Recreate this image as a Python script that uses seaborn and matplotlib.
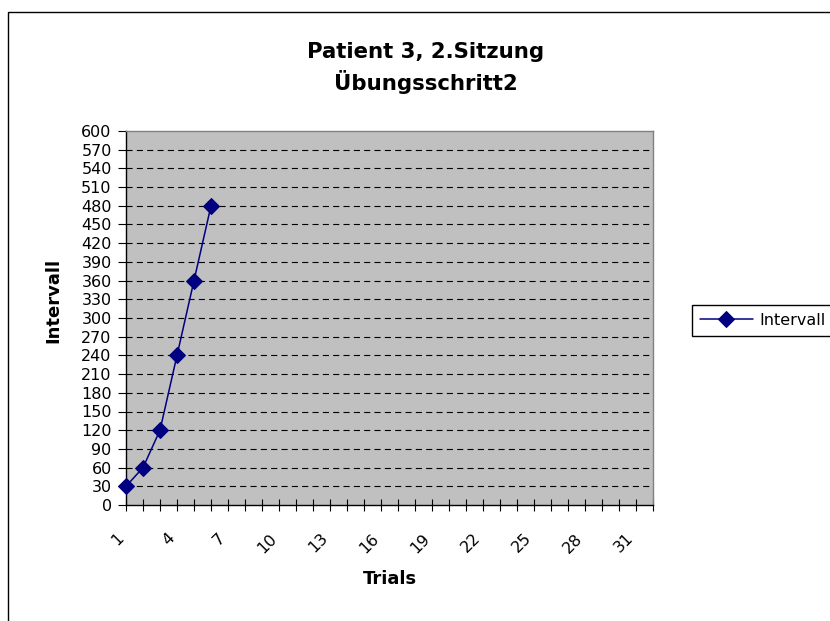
import seaborn as sns
import matplotlib.pyplot as plt
import matplotlib.transforms as mtransforms
from matplotlib.patches import Rectangle
import pandas as pd

# values
trials = [1, 2, 3, 4, 5, 6]
intervall = [30, 60, 120, 240, 360, 480]
x_labels = list(range(1, 32, 3))
y_ticks = list(range(0, 601, 30))

df = pd.DataFrame({'Trials': trials, 'Intervall': intervall})

sns.set_style('white')
plt.rcParams['font.family'] = ['DejaVu Sans']
plt.rcParams['text.color'] = 'black'
plt.rcParams['xtick.color'] = 'black'
plt.rcParams['ytick.color'] = 'black'

W, H = 830, 621
fig = plt.figure(figsize=(W / 100, H / 100), dpi=100)
ax = fig.add_axes([126 / W, 1 - 505 / H, (653 - 126) / W, (505 - 131) / H])
ax.set_facecolor('#c0c0c0')

sns.lineplot(data=df, x='Trials', y='Intervall', ax=ax, color='#000080',
             marker='D', markersize=8.2, markeredgecolor='#000080',
             linewidth=1.1, label='Intervall', clip_on=False, zorder=5)

ax.set_xlim(1, 32)
ax.set_ylim(0, 600)
ax.set_yticks(y_ticks)
ax.set_xticks(range(1, 33))
ax.set_xticklabels([str(i) if i in x_labels else '' for i in range(1, 33)])

for y in y_ticks[1:-1]:
    ax.axhline(y, color='black', lw=0.8, ls=(0, (5.5, 3.8)), zorder=1)

for s in ['top', 'right']:
    ax.spines[s].set_color('#808080')
for s in ['left', 'bottom']:
    ax.spines[s].set_color('black')
for s in ax.spines.values():
    s.set_linewidth(1.0)

ax.tick_params(axis='y', direction='out', length=5.8, width=0.8,
               pad=4.5, labelsize=11.5, left=True)
ax.tick_params(axis='x', direction='inout', length=8.6, width=0.8,
               pad=18, labelsize=11.5, bottom=True)
offset = mtransforms.ScaledTranslation(-3.6 / 72, 0, fig.dpi_scale_trans)
for lab in ax.get_xticklabels():
    lab.set_rotation(45)
    lab.set_ha('right')
    lab.set_va('center')
    lab.set_rotation_mode('anchor')
    lab.set_transform(lab.get_transform() + offset)

ax.set_xlabel('')
ax.set_ylabel('')
fig.text(390 / W, 1 - 579 / H, 'Trials', ha='center', va='center',
         fontsize=13, fontweight='bold')
fig.text(53 / W, 1 - 300 / H, 'Intervall', ha='center', va='center',
         rotation=90, fontsize=13, fontweight='bold')
fig.text(426 / W, 1 - 58 / H, 'Patient 3, 2.Sitzung', ha='center',
         va='baseline', fontsize=15.3, fontweight='bold')
fig.text(426 / W, 1 - 90 / H, 'Übungsschritt2', ha='center',
         va='baseline', fontsize=15.3, fontweight='bold')

leg = ax.legend(loc='center left', bbox_to_anchor=(692 / W, 1 - 320.5 / H),
                bbox_transform=fig.transFigure, fontsize=11.5, frameon=True,
                fancybox=False, borderaxespad=0, handlelength=3.3,
                handletextpad=0.4, borderpad=0.5)
leg.get_frame().set_edgecolor('black')
leg.get_frame().set_linewidth(1.0)
leg.get_frame().set_alpha(1)

fig.patches.append(Rectangle((8 / W, -0.1), 1.2, (H - 12) / H + 0.1,
                             transform=fig.transFigure, fill=False,
                             edgecolor='black', lw=1.0))

fig.savefig('out.png', dpi=100, facecolor='white')
